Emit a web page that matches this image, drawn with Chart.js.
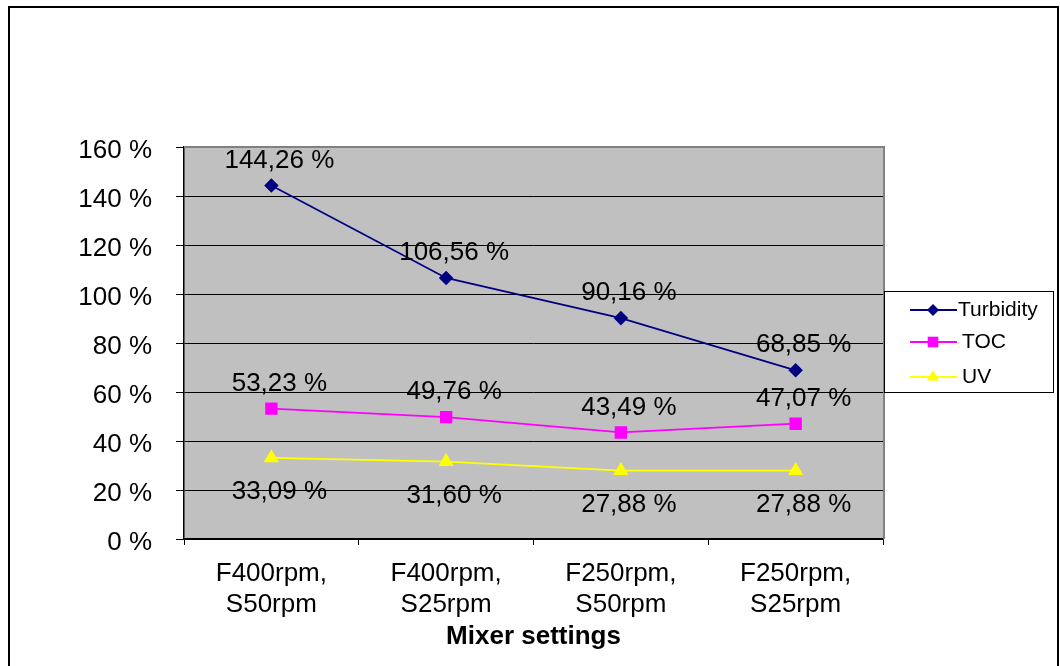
<!DOCTYPE html>
<html>
<head>
<meta charset="utf-8">
<title>Mixer settings</title>
<script src="https://cdn.jsdelivr.net/npm/chart.js@4/dist/chart.umd.min.js"></script>
<style>
  html, body { margin: 0; padding: 0; background: #fff; }
  canvas { display: block; }
</style>
</head>
<body>
<canvas id="line-chart" width="1060" height="666"></canvas>
<script>
// Data
const categories = [["F400rpm,", "S50rpm"], ["F400rpm,", "S25rpm"], ["F250rpm,", "S50rpm"], ["F250rpm,", "S25rpm"]];
const turbidity = [144.26, 106.56, 90.16, 68.85];
const toc = [53.23, 49.76, 43.49, 47.07];
const uv = [33.09, 31.60, 27.88, 27.88];
const yTicks = [0, 20, 40, 60, 80, 100, 120, 140, 160];

const FONT = "'Liberation Sans', Arial, sans-serif";

// percent with comma decimal, like the original
function pct(v) {
  return v.toFixed(2).replace(".", ",") + " %";
}

// draws a marker in the legend
function drawMarker(ctx, style, x, y, r, color) {
  ctx.save();
  ctx.fillStyle = color;
  ctx.beginPath();
  if (style === "rectRot") {
    ctx.moveTo(x, y - r);
    ctx.lineTo(x + r, y);
    ctx.lineTo(x, y + r);
    ctx.lineTo(x - r, y);
  } else if (style === "rect") {
    const s = r * Math.SQRT1_2;
    ctx.rect(x - s, y - s, 2 * s, 2 * s);
  } else {
    const h = r * 0.866;
    ctx.moveTo(x, y - r);
    ctx.lineTo(x + h, y + r / 2);
    ctx.lineTo(x - h, y + r / 2);
  }
  ctx.closePath();
  ctx.fill();
  ctx.restore();
}

// Background, plot area fill and outer frame
const backgroundPlugin = {
  id: "background",
  beforeDraw(chart) {
    const ctx = chart.ctx;
    const a = chart.chartArea;
    ctx.save();
    ctx.fillStyle = "#fff";
    ctx.fillRect(0, 0, chart.width, chart.height);
    // frame runs off the bottom of the picture
    ctx.strokeStyle = "#000";
    ctx.lineWidth = 2;
    ctx.beginPath();
    ctx.moveTo(9, chart.height);
    ctx.lineTo(9, 7);
    ctx.lineTo(1058, 7);
    ctx.lineTo(1058, chart.height);
    ctx.stroke();
    ctx.fillStyle = "#C0C0C0";
    ctx.fillRect(a.left, a.top, a.right - a.left, a.bottom - a.top);
    ctx.restore();
  },
  afterDraw(chart) {
    const ctx = chart.ctx;
    const a = chart.chartArea;
    ctx.save();
    ctx.strokeStyle = "#808080";
    ctx.lineWidth = 2;
    ctx.beginPath();
    ctx.moveTo(a.left, a.top);
    ctx.lineTo(a.right + 1, a.top);
    ctx.lineTo(a.right + 1, a.bottom);
    ctx.stroke();
    ctx.restore();
  }
};

// Value labels next to each point
const labelsPlugin = {
  id: "valueLabels",
  afterDatasetsDraw(chart, args, opts) {
    const ctx = chart.ctx;
    ctx.save();
    ctx.font = "26px " + FONT;
    ctx.fillStyle = "#000";
    ctx.textAlign = "center";
    ctx.textBaseline = "middle";
    chart.data.datasets.forEach((ds, i) => {
      const meta = chart.getDatasetMeta(i);
      const dy = opts.offsets[i];
      meta.data.forEach((pt, j) => {
        ctx.fillText(pct(ds.data[j]), pt.x + opts.dx, pt.y + dy);
      });
    });
    ctx.restore();
  }
};

// Boxed legend at the right side
const legendPlugin = {
  id: "boxLegend",
  afterDraw(chart, args, opts) {
    const ctx = chart.ctx;
    ctx.save();
    ctx.fillStyle = "#fff";
    ctx.fillRect(opts.x, opts.y, opts.w, opts.h);
    ctx.strokeStyle = "#000";
    ctx.lineWidth = 1;
    ctx.strokeRect(opts.x + 0.5, opts.y + 0.5, opts.w, opts.h);
    ctx.font = "21px " + FONT;
    ctx.textBaseline = "middle";
    ctx.textAlign = "left";
    chart.data.datasets.forEach((ds, i) => {
      const y = opts.rows[i];
      ctx.strokeStyle = ds.borderColor;
      ctx.lineWidth = 2;
      ctx.beginPath();
      ctx.moveTo(opts.x + 26, y);
      ctx.lineTo(opts.x + 73, y);
      ctx.stroke();
      drawMarker(ctx, ds.pointStyle, opts.x + 49, y, ds.pointRadius, ds.pointBackgroundColor);
      ctx.fillStyle = "#000";
      ctx.fillText(ds.label, opts.x + opts.textX[i], y);
    });
    ctx.restore();
  }
};

document.addEventListener("DOMContentLoaded", function () {
  const ctx = document.getElementById("line-chart").getContext("2d");

  new Chart(ctx, {
    type: "line",
    data: {
      labels: categories,
      datasets: [
        {
          label: "Turbidity",
          data: turbidity,
          borderColor: "#000080",
          backgroundColor: "#000080",
          pointBackgroundColor: "#000080",
          pointBorderColor: "#000080",
          pointStyle: "rectRot",
          pointRadius: 6,
          borderWidth: 1.8,
          tension: 0
        },
        {
          label: "TOC",
          data: toc,
          borderColor: "#FF00FF",
          backgroundColor: "#FF00FF",
          pointBackgroundColor: "#FF00FF",
          pointBorderColor: "#FF00FF",
          pointStyle: "rect",
          pointRadius: 7.5,
          borderWidth: 1.8,
          tension: 0
        },
        {
          label: "UV",
          data: uv,
          borderColor: "#FFFF00",
          backgroundColor: "#FFFF00",
          pointBackgroundColor: "#FFFF00",
          pointBorderColor: "#FFFF00",
          pointStyle: "triangle",
          pointRadius: 7,
          borderWidth: 1.8,
          tension: 0
        }
      ]
    },
    options: {
      responsive: false,
      animation: false,
      layout: {
        padding: { top: 147, right: 177, left: 0, bottom: 0 }
      },
      scales: {
        x: {
          offset: true,
          grid: {
            offset: true,
            drawOnChartArea: false,
            drawTicks: true,
            tickLength: 6,
            color: "#000"
          },
          border: { color: "#000", width: 1.5 },
          ticks: {
            color: "#000",
            font: { family: FONT, size: 26 },
            padding: 13,
            maxRotation: 0,
            autoSkip: false
          },
          title: {
            display: true,
            text: "Mixer settings",
            color: "#000",
            font: { family: FONT, size: 26, weight: "bold" },
            padding: { top: 0, bottom: 14 }
          },
          afterFit(scale) {
            scale.height = 127;
          }
        },
        y: {
          min: 0,
          max: 160,
          afterBuildTicks(scale) {
            scale.ticks = yTicks.map(v => ({ value: v }));
          },
          grid: {
            color: "#000",
            lineWidth: 1,
            tickLength: 8
          },
          border: { color: "#000", width: 1.5 },
          ticks: {
            color: "#000",
            font: { family: FONT, size: 26 },
            padding: 24,
            labelOffset: 4,
            callback: v => v + " %"
          },
          afterFit(scale) {
            scale.width = 184;
          }
        }
      },
      plugins: {
        legend: { display: false },
        tooltip: { enabled: false },
        valueLabels: {
          dx: 8,
          offsets: [-25, -25, 34]
        },
        boxLegend: {
          x: 884, y: 291, w: 169, h: 101,
          rows: [310, 342, 377],
          textX: [74, 78, 78]
        }
      }
    },
    plugins: [backgroundPlugin, labelsPlugin, legendPlugin]
  });
});
</script>
</body>
</html>
